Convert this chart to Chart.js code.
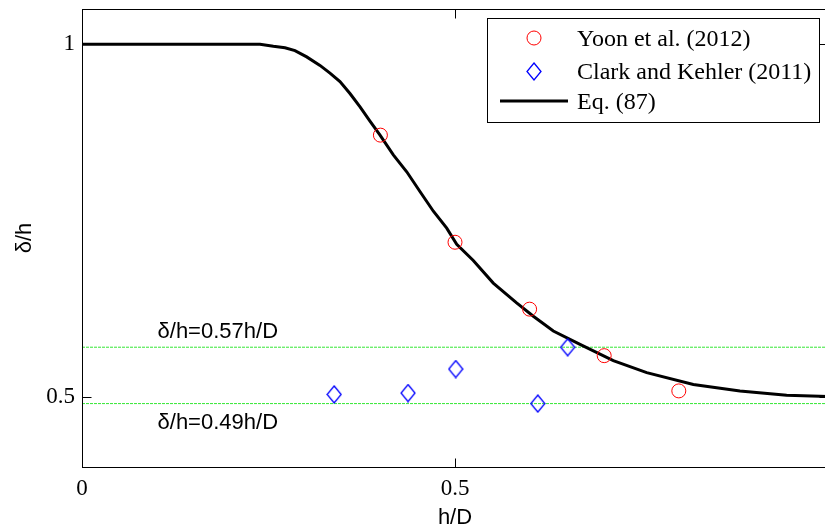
<!DOCTYPE html>
<html>
<head>
<meta charset="utf-8">
<title>δ/h vs h/D</title>
<script src="https://cdn.jsdelivr.net/npm/chart.js@4.4.1/dist/chart.umd.min.js"></script>
<style>
  html, body { margin: 0; padding: 0; background: #fff; overflow: hidden; }
  #wrap { width: 840px; height: 531px; }
</style>
</head>
<body>
<div id="wrap"><canvas id="chart" width="840" height="531"></canvas></div>
<script>
// Eq. (87)
const eqX = [0, 0.2386, 0.2565, 0.2721, 0.2855, 0.3012, 0.319, 0.3324, 0.3458, 0.3592,
  0.3727, 0.386, 0.3995, 0.4173, 0.4353, 0.453, 0.471, 0.4889, 0.5023, 0.5245,
  0.5513, 0.5826, 0.605, 0.6318, 0.6676, 0.7122, 0.757, 0.8195, 0.882, 0.9446, 1.0];
const eqY = [1, 1, 0.997, 0.995, 0.991, 0.982, 0.970, 0.959, 0.947, 0.930,
  0.911, 0.891, 0.871, 0.843, 0.819, 0.791, 0.763, 0.739, 0.716, 0.693,
  0.661, 0.633, 0.614, 0.593, 0.574, 0.551, 0.534, 0.517, 0.508, 0.502, 0.5];

// Yoon et al. (2012)
const yoonX = [0.4, 0.5, 0.6, 0.7, 0.8];
const yoonY = [0.871, 0.719, 0.624, 0.558, 0.508];

// Clark and Kehler (2011)
const clarkX = [0.338, 0.437, 0.501, 0.611, 0.651];
const clarkY = [0.503, 0.505, 0.539, 0.490, 0.570];

// fitted levels
const fitLevels = [0.57, 0.49];
const fitLabels = ["δ/h=0.57h/D", "δ/h=0.49h/D"];

const xTicks = [0, 0.5];
const yTicks = [0.5, 1];

const SERIF = "'Liberation Serif', 'Times New Roman', serif";
const SANS = "'Liberation Sans', Arial, sans-serif";

const toXY = (xs, ys) => xs.map((x, i) => ({ x, y: ys[i] }));

// tall blue diamond marker
function makeDiamond() {
  const c = document.createElement("canvas");
  c.width = 16;
  c.height = 19;
  const g = c.getContext("2d");
  g.strokeStyle = "#0000ff";
  g.lineWidth = 1.3;
  g.beginPath();
  g.moveTo(8, 1);
  g.lineTo(15, 9.5);
  g.lineTo(8, 18);
  g.lineTo(1, 9.5);
  g.closePath();
  g.stroke();
  return c;
}
const diamond = makeDiamond();

// box, inward ticks, fit labels and legend
const framePlugin = {
  id: "frame",
  afterDraw(chart) {
    const { ctx, chartArea: a, scales } = chart;
    const L = Math.round(a.left) + 0.5, R = Math.round(a.right) + 0.5;
    const T = Math.round(a.top) + 0.5, B = Math.round(a.bottom) + 0.5;
    const tick = 9;
    ctx.save();
    ctx.strokeStyle = "#000";
    ctx.lineWidth = 1;
    ctx.strokeRect(L, T, R - L, B - T);
    ctx.beginPath();
    xTicks.forEach((v) => {
      const px = Math.round(scales.x.getPixelForValue(v)) + 0.5;
      ctx.moveTo(px, B); ctx.lineTo(px, B - tick);
      ctx.moveTo(px, T); ctx.lineTo(px, T + tick);
    });
    yTicks.forEach((v) => {
      const py = Math.round(scales.y.getPixelForValue(v)) + 0.5;
      ctx.moveTo(L, py); ctx.lineTo(L + tick, py);
      ctx.moveTo(R, py); ctx.lineTo(R - tick, py);
    });
    ctx.stroke();

    // labels of the fitted levels
    ctx.fillStyle = "#000";
    ctx.font = "22px " + SANS;
    ctx.textAlign = "center";
    ctx.textBaseline = "middle";
    const lx = scales.x.getPixelForValue(0.182);
    ctx.fillText(fitLabels[0], lx, scales.y.getPixelForValue(fitLevels[0]) - 15);
    ctx.fillText(fitLabels[1], lx, scales.y.getPixelForValue(fitLevels[1]) + 19);

    // legend
    const bx = 487.5, by = 18.5, bw = 332, bh = 104;
    ctx.fillStyle = "#fff";
    ctx.fillRect(bx, by, bw, bh);
    ctx.strokeRect(bx, by, bw, bh);
    const mx = 534;
    const rows = [38, 71, 101];
    ctx.strokeStyle = "#ff0000";
    ctx.beginPath();
    ctx.arc(mx, rows[0], 7, 0, Math.PI * 2);
    ctx.stroke();
    ctx.drawImage(diamond, mx - 8, rows[1] - 9);
    ctx.strokeStyle = "#000";
    ctx.lineWidth = 3;
    ctx.beginPath();
    ctx.moveTo(500, rows[2]);
    ctx.lineTo(568, rows[2]);
    ctx.stroke();
    ctx.fillStyle = "#000";
    ctx.font = "24px " + SERIF;
    ctx.textAlign = "left";
    const names = chart.data.datasets.slice(0, 3).map((d) => d.label);
    names.forEach((n, i) => ctx.fillText(n, 577, rows[i] + 2));
    ctx.restore();
  },
};

const ctx = document.getElementById("chart").getContext("2d");
new Chart(ctx, {
  type: "scatter",
  data: {
    datasets: [
      {
        label: "Yoon et al. (2012)",
        data: toXY(yoonX, yoonY),
        pointStyle: "circle",
        pointRadius: 7,
        borderColor: "#ff0000",
        backgroundColor: "rgba(0,0,0,0)",
        borderWidth: 1,
      },
      {
        label: "Clark and Kehler (2011)",
        data: toXY(clarkX, clarkY),
        pointStyle: diamond,
        pointRadius: 8,
        borderColor: "#0000ff",
        backgroundColor: "rgba(0,0,0,0)",
      },
      {
        label: "Eq. (87)",
        data: toXY(eqX, eqY),
        showLine: true,
        borderColor: "#000",
        borderWidth: 3,
        pointRadius: 0,
      },
      ...fitLevels.map((lv) => ({
        label: "fit " + lv,
        data: [{ x: 0, y: lv }, { x: 1, y: lv }],
        showLine: true,
        borderColor: "#33e633",
        borderWidth: 1,
        borderDash: [3, 1],
        pointRadius: 0,
      })),
    ],
  },
  options: {
    responsive: false,
    animation: false,
    events: [],
    layout: { padding: { top: 6, right: 12, left: 0, bottom: 0 } },
    plugins: { legend: { display: false }, tooltip: { enabled: false } },
    scales: {
      x: {
        type: "linear",
        min: 0,
        max: 1,
        afterBuildTicks: (axis) => { axis.ticks = xTicks.map((v) => ({ value: v })); },
        afterFit: (axis) => {
          axis.height = 64;
          axis.paddingLeft = 0;
          axis.paddingRight = 0;
        },
        grid: { display: false, drawTicks: false },
        border: { display: false },
        ticks: {
          color: "#000",
          padding: 8,
          font: { family: SERIF, size: 23 },
          callback: (v) => String(v),
        },
        title: {
          display: true,
          text: "h/D",
          color: "#000",
          font: { family: SANS, size: 22 },
          padding: { top: 0, bottom: 0 },
        },
      },
      y: {
        type: "linear",
        min: 0.4,
        max: 1.05,
        afterBuildTicks: (axis) => { axis.ticks = yTicks.map((v) => ({ value: v })); },
        afterFit: (axis) => {
          axis.width = 82;
          axis.paddingTop = 0;
          axis.paddingBottom = 0;
        },
        grid: { display: false, drawTicks: false },
        border: { display: false },
        ticks: {
          color: "#000",
          padding: 7,
          font: { family: SERIF, size: 23 },
          callback: (v) => String(v),
        },
        title: {
          display: true,
          text: "δ/h",
          color: "#000",
          font: { family: SANS, size: 22 },
          padding: { top: 12, bottom: 0 },
        },
      },
    },
  },
  plugins: [framePlugin],
});
</script>
</body>
</html>
